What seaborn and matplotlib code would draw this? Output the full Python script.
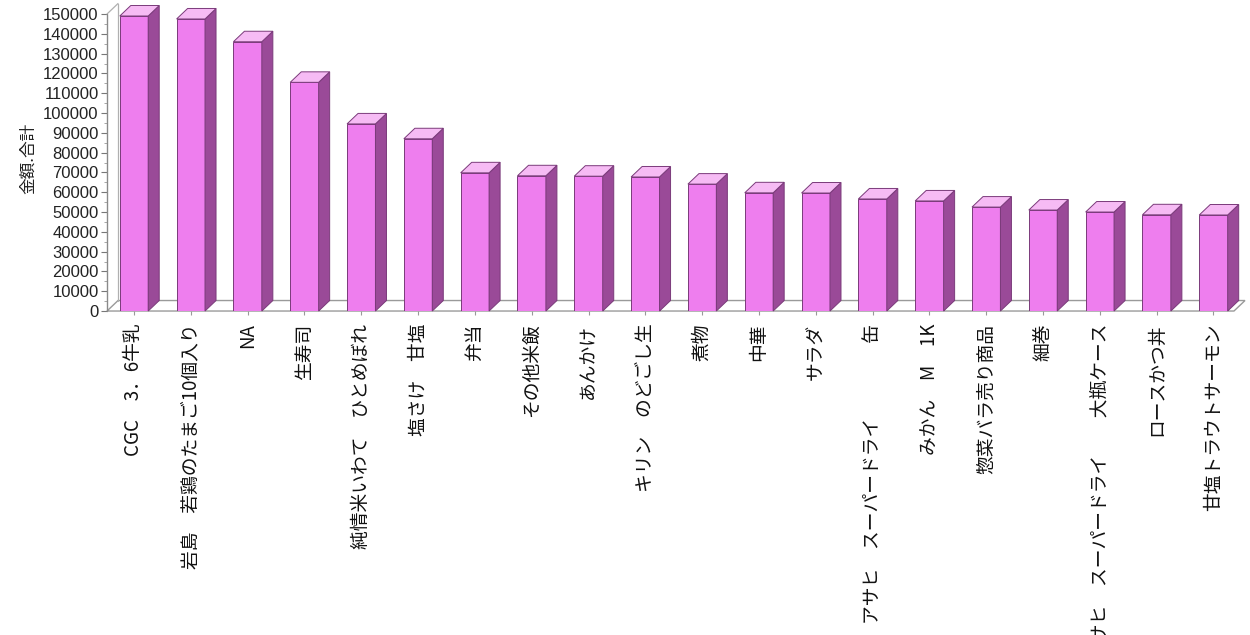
import matplotlib
matplotlib.use("Agg")
import matplotlib.pyplot as plt
import seaborn as sns
import pandas as pd
from matplotlib.patches import Polygon
from matplotlib.lines import Line2D
from matplotlib.ticker import MultipleLocator

categories = [
    "CGC　3．6牛乳",
    "岩島　若鶏のたまご10個入り",
    "NA",
    "生寿司",
    "純情米いわて　ひとめぼれ",
    "塩さけ　甘塩",
    "弁当",
    "その他米飯",
    "あんかけ",
    "キリン　のどごし生",
    "煮物",
    "中華",
    "サラダ",
    "アサヒ　スーパードライ　　　　缶",
    "みかん　M　1K",
    "惣菜バラ売り商品",
    "細巻",
    "アサヒ　スーパードライ　　大瓶ケース",
    "ロースかつ丼",
    "甘塩トラウトサーモン",
]
values = [149000, 147500, 136000, 115500, 94500, 87000, 69800, 68300, 68100, 67700,
          64100, 59700, 59600, 56600, 55600, 52500, 51000, 50000, 48600, 48500]
y_ticks = list(range(0, 150001, 10000))
y_label = "金額.合計"

sns.set_theme(style="white")
plt.rcParams['font.family'] = ['Noto Sans CJK JP', 'DejaVu Sans']

df = pd.DataFrame({"cat": categories, "val": values})

fig = plt.figure(figsize=(12.5, 6.35), dpi=100)
ax = fig.add_axes([0.0856, 0.5102, 0.9104, 0.4819])

front = "#EE7EEE"
side = "#9A4A98"
top = "#F6BBF4"
edge = "#7A3A7A"

sns.barplot(data=df, x="cat", y="val", color=front, saturation=1, width=0.5,
            edgecolor=edge, linewidth=0.7, ax=ax, zorder=3)

x0, x1 = -0.475, 19.555
ymax = 154545
ax.set_xlim(x0, x1)
ax.set_ylim(0, ymax)
dx = 0.194
dy = 5300

# floor
floor = Polygon([(x0, 0), (x1 - dx, 0), (x1, dy), (x0 + dx, dy)], closed=True,
                facecolor="white", edgecolor="#9a9a9a", linewidth=1.0, zorder=1,
                clip_on=False)
ax.add_patch(floor)
# left wall
ax.add_line(Line2D([x0 + dx, x0 + dx], [dy, 150000 + dy], color="#b0b0b0", lw=0.9,
                   zorder=1, clip_on=False))
ax.add_line(Line2D([x0, x0 + dx], [150000, 150000 + dy], color="#b0b0b0", lw=0.9,
                   zorder=1, clip_on=False))
ax.add_line(Line2D([x0, x0], [0, 150000], color="#8a8a8a", lw=1.0, zorder=2,
                   clip_on=False))

# 3D faces derived from bars
for p in list(ax.patches):
    if p is floor:
        continue
    bx = p.get_x()
    bw = p.get_width()
    bh = p.get_height()
    if bh <= 0:
        continue
    sidep = Polygon([(bx + bw, 0), (bx + bw + dx, dy), (bx + bw + dx, bh + dy), (bx + bw, bh)],
                    closed=True, facecolor=side, edgecolor=edge, linewidth=0.7, zorder=3,
                    clip_on=False)
    topp = Polygon([(bx, bh), (bx + bw, bh), (bx + bw + dx, bh + dy), (bx + dx, bh + dy)],
                   closed=True, facecolor=top, edgecolor=edge, linewidth=0.7, zorder=3,
                   clip_on=False)
    ax.add_patch(sidep)
    ax.add_patch(topp)

for s in ["top", "right", "bottom", "left"]:
    ax.spines[s].set_visible(False)

ax.set_yticks(y_ticks)
ax.set_yticklabels([str(t) for t in y_ticks], family=['Liberation Sans', 'DejaVu Sans'],
                   fontsize=12, color="#222222")
ax.yaxis.set_minor_locator(MultipleLocator(5000))
ax.tick_params(axis="y", which="major", left=True, length=4, width=0.8, color="#777777", pad=2)
ax.tick_params(axis="y", which="minor", left=True, length=2, width=0.6, color="#999999")
ax.tick_params(axis="x", bottom=True, length=3, width=0.8, color="#999999", pad=6)

ax.set_xticks(range(len(categories)))
ax.set_xticklabels(categories, rotation=90, ha="center", va="top", fontsize=13.5,
                   color="#111111")
ax.set_xlabel("")
ax.set_ylabel(y_label, fontsize=12, color="#222222", labelpad=4)

fig.savefig("out.png", dpi=100)
